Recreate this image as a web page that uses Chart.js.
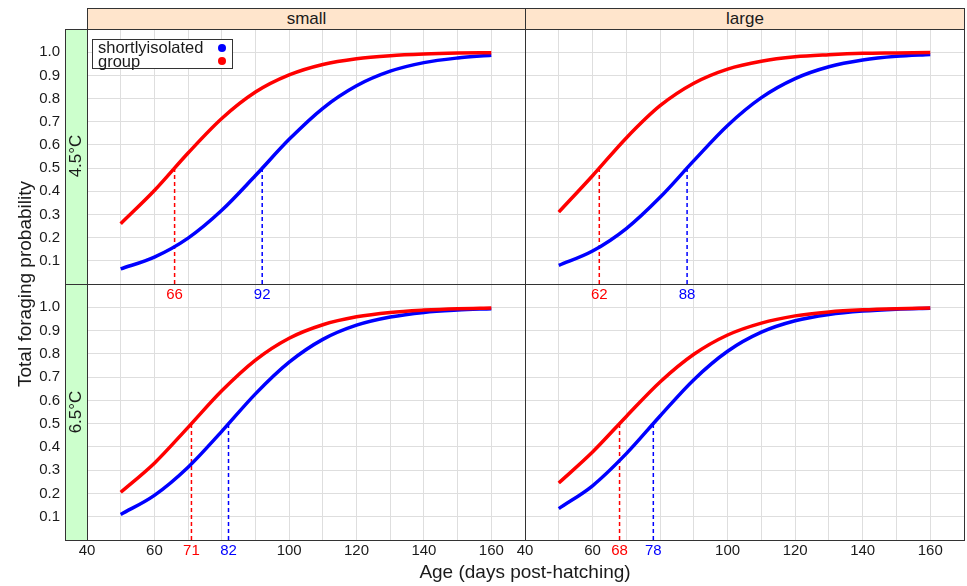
<!DOCTYPE html>
<html>
<head>
<meta charset="utf-8">
<script src="https://cdn.jsdelivr.net/npm/chart.js@4.4.1/dist/chart.umd.min.js"></script>
<style>
    body { margin: 0; background: #fff; font-family: "Liberation Sans", Arial, sans-serif; color: #1a1a1a; }
    #lienzo { position: relative; width: 967px; height: 586px; overflow: hidden; }
    #lienzo canvas { position: absolute; }
    .caja { position: absolute; box-sizing: border-box; pointer-events: none; }
    .marco { border: 1px solid #333; }
    .tira-sup { background: #ffe5cc; border: 1px solid #333; text-align: center; font-size: 17px; line-height: 20px; }
    .tira-izq { background: #ccffcc; border: 1px solid #333; }
    .giro { position: absolute; text-align: center; transform: rotate(-90deg); white-space: nowrap; }
    #leyenda { left: 92px; top: 39px; width: 141px; height: 30px; border: 1px solid #333; background: #fff;
               font-size: 16.5px; line-height: 13.5px; padding: 1px 0 0 5px; }
    #leyenda .punto { position: absolute; left: 125px; width: 8px; height: 8px; border-radius: 50%; }
</style>
</head>
<body>
<div id="lienzo">
    <!-- primero los paneles de abajo: las etiquetas de los de arriba caen encima de ellos -->
    <canvas id="panelPequeno65" width="535" height="336" style="left:0;top:244px;"></canvas>
    <canvas id="panelGrande65" width="469" height="336" style="left:505px;top:244px;"></canvas>
    <canvas id="panelPequeno45" width="535" height="335" style="left:0;top:-11px;"></canvas>
    <canvas id="panelGrande45" width="469" height="335" style="left:505px;top:-11px;"></canvas>

    <!-- tiras de lattice -->
    <div class="caja tira-sup" style="left:87px;top:8px;width:439px;height:22px;">small</div>
    <div class="caja tira-sup" style="left:525px;top:8px;width:440px;height:22px;">large</div>
    <div class="caja tira-izq" style="left:65px;top:29px;width:23px;height:256px;"></div>
    <div class="caja tira-izq" style="left:65px;top:284px;width:23px;height:257px;"></div>
    <div class="giro" style="left:-52px;top:145px;width:256px;height:22px;line-height:22px;font-size:17px;">4.5°C</div>
    <div class="giro" style="left:-52px;top:401px;width:256px;height:22px;line-height:22px;font-size:17px;">6.5°C</div>

    <!-- marcos de los paneles -->
    <div class="caja marco" style="left:87px;top:29px;width:439px;height:256px;"></div>
    <div class="caja marco" style="left:525px;top:29px;width:440px;height:256px;"></div>
    <div class="caja marco" style="left:87px;top:284px;width:439px;height:257px;"></div>
    <div class="caja marco" style="left:525px;top:284px;width:440px;height:257px;"></div>

    <!-- titulos de ejes -->
    <div class="giro" style="left:-225px;top:272px;width:500px;height:24px;line-height:24px;font-size:19px;">Total foraging probability</div>
    <div style="position:absolute;left:275px;top:560px;width:500px;height:24px;line-height:24px;font-size:19px;text-align:center;">Age (days post-hatching)</div>

    <div id="leyenda" class="caja">
        <div>shortlyisolated</div>
        <div>group</div>
        <span class="punto" style="top:4px;background:#0000ff;"></span>
        <span class="punto" style="top:17px;background:#ff0000;"></span>
    </div>
</div>

<script>
//////////////////////////////////////////////////////////////////////////////////////
/// DATOS /////////////////////////////////////////////////////////
//////////////////////////////////////////////////////////////////////////////////////
const edades = [50, 60, 70, 80, 90, 100, 110, 120, 130, 140, 150, 160];

// small, 4.5°C
const pequeno45Grupo   = [0.260, 0.403, 0.565, 0.714, 0.828, 0.902, 0.947, 0.972, 0.985, 0.992, 0.996, 0.998];
const pequeno45Aislado = [0.065, 0.116, 0.198, 0.318, 0.468, 0.624, 0.758, 0.855, 0.918, 0.955, 0.975, 0.987];
// large, 4.5°C
const grande45Grupo    = [0.310, 0.467, 0.630, 0.769, 0.866, 0.927, 0.961, 0.980, 0.989, 0.995, 0.997, 0.999];
const grande45Aislado  = [0.080, 0.142, 0.239, 0.374, 0.532, 0.684, 0.804, 0.886, 0.937, 0.966, 0.982, 0.990];
// small, 6.5°C
const pequeno65Grupo   = [0.205, 0.330, 0.484, 0.641, 0.773, 0.867, 0.925, 0.959, 0.978, 0.988, 0.994, 0.997];
const pequeno65Aislado = [0.110, 0.192, 0.313, 0.467, 0.628, 0.764, 0.862, 0.923, 0.958, 0.978, 0.988, 0.994];
// large, 6.5°C
const grande65Grupo    = [0.245, 0.378, 0.531, 0.679, 0.798, 0.881, 0.932, 0.963, 0.980, 0.989, 0.994, 0.997];
const grande65Aislado  = [0.135, 0.233, 0.371, 0.533, 0.689, 0.811, 0.893, 0.942, 0.969, 0.984, 0.992, 0.996];

// edad con probabilidad 0.5  [group, shortlyisolated]
const mitadPequeno45 = [66, 92];
const mitadGrande45  = [62, 88];
const mitadPequeno65 = [71, 82];
const mitadGrande65  = [68, 78];
const nivelMitad = 0.5;

// marcas y rejilla
const marcasX  = [40, 60, 100, 120, 140, 160];
const rejillaX = [40, 50, 60, 70, 80, 90, 100, 110, 120, 130, 140, 150, 160, 170];
const marcasY  = [0.1, 0.2, 0.3, 0.4, 0.5, 0.6, 0.7, 0.8, 0.9, 1.0];
const rejillaY = [0, 0.1, 0.2, 0.3, 0.4, 0.5, 0.6, 0.7, 0.8, 0.9, 1.0, 1.1];


//////////////////////////////////////////////////////////////////////////////////////
/// PANELES //////////////////////////////////////////////////////////////////////////
//////////////////////////////////////////////////////////////////////////////////////
const ROJO = "#ff0000";
const AZUL = "#0000ff";
const GRIS = "#dedede";
const TEXTO = "#1a1a1a";
const FUENTE = "'Liberation Sans', Arial, sans-serif";

function CrearPanel(id, grupo, aislado, mitad, conEjeY, conMarcasX) {
    const etiquetasX = conMarcasX ? marcasX.concat(mitad) : mitad.slice();
    const ticksX = rejillaX.concat(mitad).sort((a, b) => a - b);

    const curva = (valores, color, orden, nombre) => ({
        label: nombre,
        data: edades.map((e, i) => ({ x: e, y: valores[i] })),
        borderColor: color,
        borderWidth: 3.5,
        pointRadius: 0,
        cubicInterpolationMode: "monotone",
        order: orden
    });
    const guia = (edad, color, orden) => ({
        label: "",
        data: [{ x: edad, y: 0 }, { x: edad, y: nivelMitad }],
        borderColor: color,
        borderWidth: 1.5,
        borderDash: [4, 3],
        pointRadius: 0,
        order: orden
    });

    new Chart(document.getElementById(id), {
        type: "line",
        data: {
            datasets: [
                curva(grupo, ROJO, 0, "group"),
                curva(aislado, AZUL, 1, "shortlyisolated"),
                guia(mitad[0], ROJO, 2),
                guia(mitad[1], AZUL, 3)
            ]
        },
        options: {
            responsive: false,
            animation: false,
            // holgura amplia: la zona de dibujo queda fija aunque Chart.js reserve espacio a las etiquetas
            layout: { padding: { top: 40, bottom: 0, left: conEjeY ? 0 : 20, right: 10 } },
            plugins: { legend: { display: false }, tooltip: { enabled: false } },
            scales: {
                x: {
                    type: "linear",
                    min: 40,
                    max: 170,
                    border: { display: false },
                    grid: {
                        drawTicks: false,
                        color: ctx => (ctx.tick && rejillaX.includes(ctx.tick.value)) ? GRIS : "rgba(0,0,0,0)"
                    },
                    ticks: {
                        autoSkip: false,
                        maxRotation: 0,
                        minRotation: 0,
                        padding: 2,
                        font: { size: 15, family: FUENTE },
                        color: ctx => ctx.tick.value === mitad[0] ? ROJO : (ctx.tick.value === mitad[1] ? AZUL : TEXTO),
                        callback: v => etiquetasX.includes(v) ? String(v) : ""
                    },
                    afterBuildTicks: s => { s.ticks = ticksX.map(v => ({ value: v })); },
                    afterFit: s => { s.height = 40; }
                },
                y: {
                    type: "linear",
                    min: 0,
                    max: 1.1,
                    border: { display: false },
                    grid: { drawTicks: false, color: GRIS },
                    ticks: {
                        display: conEjeY,
                        padding: 27,
                        font: { size: 15, family: FUENTE },
                        color: TEXTO,
                        callback: v => marcasY.includes(v) ? v.toFixed(1) : ""
                    },
                    afterBuildTicks: s => { s.ticks = rejillaY.map(v => ({ value: v })); },
                    afterFit: s => { s.width = conEjeY ? 87 : 0; }
                }
            }
        }
    });
}


//////////////////////////////////////////////////////////////////////////////////////
/// INICIALIZAR //////////////////////////////////////////////////////////////////////
//////////////////////////////////////////////////////////////////////////////////////
CrearPanel("panelPequeno45", pequeno45Grupo, pequeno45Aislado, mitadPequeno45, true, false);
CrearPanel("panelGrande45", grande45Grupo, grande45Aislado, mitadGrande45, false, false);
CrearPanel("panelPequeno65", pequeno65Grupo, pequeno65Aislado, mitadPequeno65, true, true);
CrearPanel("panelGrande65", grande65Grupo, grande65Aislado, mitadGrande65, false, true);
</script>
</body>
</html>
